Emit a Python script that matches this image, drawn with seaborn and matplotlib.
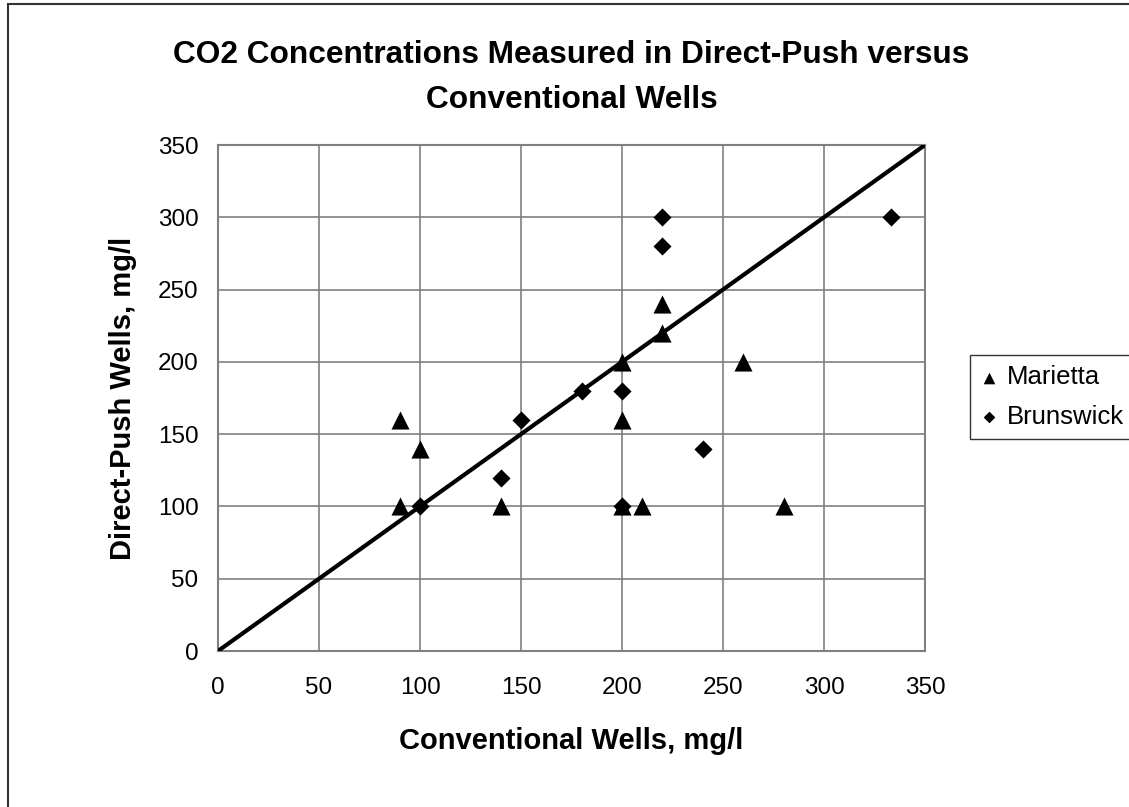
import pandas as pd
import matplotlib.pyplot as plt
import matplotlib.patches as mpatches
import seaborn as sns

# CO2 data (mg/l)
marietta_conv = [90, 90, 100, 140, 200, 200, 200, 210, 220, 220, 260, 280]
marietta_push = [160, 100, 140, 100, 200, 160, 100, 100, 240, 220, 200, 100]
brunswick_conv = [100, 140, 150, 180, 200, 200, 220, 220, 240, 333]
brunswick_push = [100, 120, 160, 180, 180, 100, 300, 280, 140, 300]
one_to_one = [0, 350]
ticks = [0, 50, 100, 150, 200, 250, 300, 350]

mar = pd.DataFrame({"conv": marietta_conv, "push": marietta_push})
bru = pd.DataFrame({"conv": brunswick_conv, "push": brunswick_push})

sns.set_style("white")
plt.rcParams["font.family"] = ["Liberation Sans", "DejaVu Sans"]
plt.rcParams["text.color"] = "black"
plt.rcParams["axes.labelcolor"] = "black"
plt.rcParams["xtick.color"] = "black"
plt.rcParams["ytick.color"] = "black"

fig = plt.figure(figsize=(11.29, 8.07), dpi=100)
ax = fig.add_axes([218 / 1129, 1 - 651 / 807, 707 / 1129, 506 / 807])

sns.scatterplot(data=mar, x="conv", y="push", marker="^", color="black", s=170,
                linewidth=0, label="Marietta", ax=ax, zorder=4)
sns.scatterplot(data=bru, x="conv", y="push", marker="D", color="black", s=85,
                linewidth=0, label="Brunswick", ax=ax, zorder=4)
sns.lineplot(x=one_to_one, y=one_to_one, color="black", linewidth=3.0, ax=ax, zorder=3)

ax.set_xlim(0, 350)
ax.set_ylim(0, 350)
ax.set_xticks(ticks)
ax.set_yticks(ticks)
ax.grid(True, color="#808080", linewidth=1.2)
ax.set_axisbelow(True)
for sp in ax.spines.values():
    sp.set_color("#808080")
    sp.set_linewidth(1.5)
ax.tick_params(axis="both", length=0, labelsize=17.5)
ax.tick_params(axis="x", pad=19)
ax.tick_params(axis="y", pad=14)

ax.set_xlabel("Conventional Wells, mg/l", fontsize=21, fontweight="bold", labelpad=20)
ax.set_ylabel("Direct-Push Wells, mg/l", fontsize=21, fontweight="bold", labelpad=15)
ax.set_title("CO2 Concentrations Measured in Direct-Push versus\nConventional Wells",
             fontsize=22.8, fontweight="bold", linespacing=1.65, pad=27)

handles, labels = ax.get_legend_handles_labels()
leg = ax.legend(handles, labels, loc="upper left",
                bbox_to_anchor=(970 / 1129, 1 - 355 / 807), bbox_transform=fig.transFigure,
                fontsize=18.5, frameon=True, fancybox=False, edgecolor="black",
                handlelength=0.7, handletextpad=0.35,
                borderpad=0.4, labelspacing=0.6, borderaxespad=0)
for h, sz in zip(leg.legend_handles, [70, 35]):
    h.set_sizes([sz])
leg.get_frame().set_linewidth(1.0)

# outer chart frame
fig.patches.append(mpatches.Rectangle((8 / 1129, -0.01), 1.2, 1 - 4 / 807 + 0.01,
                                      transform=fig.transFigure, fill=False,
                                      edgecolor="#333333", linewidth=1.5))

fig.savefig("out.png", dpi=100)
